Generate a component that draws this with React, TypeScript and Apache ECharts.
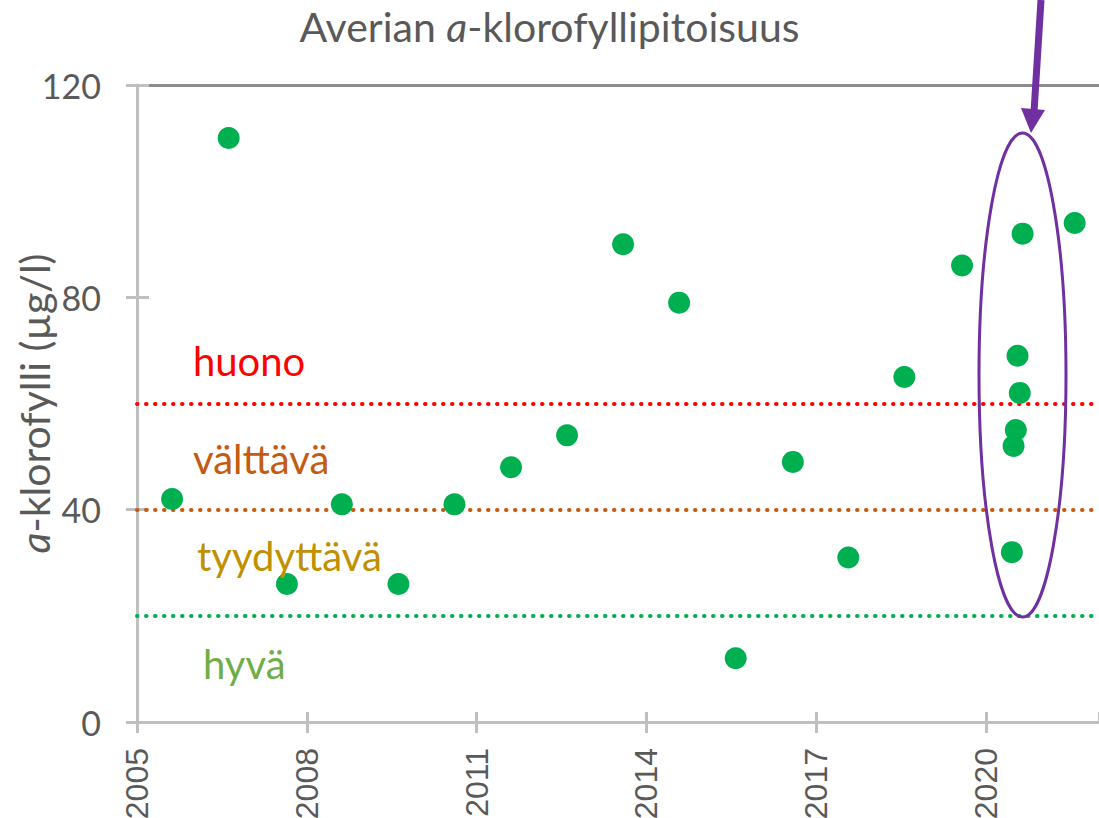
import React, { useEffect, useRef } from "react";
import * as echarts from "echarts";

const sampleYears = [
  2005.62, 2006.62, 2007.65, 2008.62, 2009.62, 2010.61, 2011.61, 2012.6, 2013.59, 2014.58,
  2015.58, 2016.59, 2017.57, 2018.56, 2019.58, 2020.46, 2020.49, 2020.53, 2020.6, 2020.56,
  2020.65, 2021.57,
];
const chlorophyll = [
  42, 110, 26, 41, 26, 41, 48, 54, 90, 79, 12, 49, 31, 65, 86, 32, 52, 55, 62, 69, 92, 94,
];
const classLimits = [60, 40, 20];
const classLimitColors = ["#FF0000", "#C55A11", "#00B050"];
const classNames = ["huono", "välttävä", "tyydyttävä", "hyvä"];
const classNameColors = ["#FF0000", "#C55A11", "#BF9000", "#70AD47"];

const FONT = "Lato, 'Open Sans', sans-serif";
const GRAY = "#595959";

export default function App() {
  const ref = useRef<HTMLDivElement>(null);
  useEffect(() => {
    if (!ref.current) return;
    const chart = echarts.init(ref.current, null, { renderer: "svg" });
    const points = sampleYears.map((y, i) => [y, chlorophyll[i]]);
    const labelPos = [
      [193, 365],
      [193, 463],
      [197, 560],
      [203, 668],
    ];
    chart.setOption({
      animation: false,
      backgroundColor: "#ffffff",
      textStyle: { fontFamily: FONT },
      title: {
        text: "{n|Averian }{i|a}{n|-klorofyllipitoisuus}",
        left: "center",
        top: 1,
        textStyle: {
          fontWeight: "normal",
          rich: {
            n: { fontFamily: FONT, fontSize: 41, color: GRAY, fontWeight: "normal" },
            i: { fontFamily: FONT, fontSize: 41, color: GRAY, fontStyle: "italic", fontWeight: "normal" },
          },
        },
      },
      grid: {
        left: 137,
        right: 0,
        top: 85,
        bottom: 96,
        containLabel: false,
        outerBoundsMode: "none",
      },
      xAxis: [
        {
          type: "value",
          position: "bottom",
          min: 2005,
          max: 2022,
          interval: 3,
          axisLine: { show: true, lineStyle: { color: "#BFBFBF", width: 3 } },
          axisTick: { show: true, length: 11, lineStyle: { color: "#BFBFBF", width: 3 } },
          axisLabel: {
            rotate: 90,
            margin: 26,
            color: GRAY,
            fontSize: 32,
            fontFamily: "'Liberation Sans', Arial, sans-serif",
            showMaxLabel: false,
            formatter: (v: number) => String(Math.round(v)),
          },
          splitLine: { show: false },
        },
        {
          type: "value",
          position: "bottom",
          offset: 0,
          min: 2005,
          max: 2022,
          interval: 3,
          axisLine: { show: false },
          axisTick: { show: true, inside: true, length: 10, lineStyle: { color: "#BFBFBF", width: 3 } },
          axisLabel: { show: false },
          splitLine: { show: false },
        },
        {
          type: "value",
          position: "top",
          min: 2005,
          max: 2022,
          axisLine: { show: true, lineStyle: { color: "#8C8C8C", width: 3 } },
          axisTick: { show: false },
          axisLabel: { show: false },
          splitLine: { show: false },
        },
      ],
      yAxis: [
        {
          type: "value",
          position: "left",
          min: 0,
          max: 120,
          interval: 40,
          name: "{i|a}-klorofylli (µg/l)",
          nameLocation: "middle",
          nameGap: 82,
          nameRotate: 90,
          nameMoveOverlap: false,
          nameTextStyle: {
            rich: {
              i: { fontFamily: FONT, fontSize: 41, color: GRAY, fontStyle: "italic" },
            },
            fontFamily: FONT,
            fontSize: 41,
            color: GRAY,
          },
          axisLine: { show: true, lineStyle: { color: "#BFBFBF", width: 3 } },
          axisTick: { show: true, length: 11, lineStyle: { color: "#BFBFBF", width: 3 } },
          axisLabel: { margin: 36, color: GRAY, fontSize: 34, fontFamily: FONT },
          splitLine: { show: false },
        },
        {
          type: "value",
          position: "left",
          offset: 0,
          min: 0,
          max: 120,
          interval: 40,
          axisLine: { show: false },
          axisTick: { show: true, inside: true, length: 12, lineStyle: { color: "#BFBFBF", width: 3 } },
          axisLabel: { show: false },
          splitLine: { show: false },
        },
      ],
      series: [
        {
          type: "scatter",
          xAxisIndex: 0,
          yAxisIndex: 0,
          data: points,
          symbol: "circle",
          symbolSize: 22,
          itemStyle: { color: "#00B050", opacity: 1 },
          z: 5,
          markLine: {
            silent: true,
            symbol: "none",
            label: { show: false },
            data: classLimits.map((v, i) => ({
              yAxis: v,
              lineStyle: {
                color: classLimitColors[i],
                width: 4,
                type: [0.5, 8.5],
                cap: "round",
                opacity: 1,
              },
            })),
          },
        },
      ],
      graphic: [
        ...classNames.map((t, i) => ({
          type: "text",
          left: labelPos[i][0],
          top: labelPos[i][1] - 24,
          z: 10,
          style: {
            text: t,
            fill: classNameColors[i],
            font: `40px ${FONT}`,
          },
        })),
        {
          type: "ellipse",
          shape: { cx: 1022.5, cy: 375, rx: 43.5, ry: 242 },
          style: { fill: "none", stroke: "#7030A0", lineWidth: 3 },
          z: 20,
        },
        {
          type: "line",
          shape: { x1: 1041, y1: 0, x2: 1034, y2: 112 },
          style: { stroke: "#7030A0", lineWidth: 7 },
          z: 20,
        },
        {
          type: "polygon",
          shape: {
            points: [
              [1021, 108],
              [1045, 110],
              [1031, 133],
            ],
          },
          style: { fill: "#7030A0" },
          z: 20,
        },
      ],
    });
    return () => chart.dispose();
  }, []);
  return (
    <div
      ref={ref}
      style={{ position: "fixed", left: 0, top: 0, width: 1099, height: 818, background: "#fff" }}
    />
  );
}
